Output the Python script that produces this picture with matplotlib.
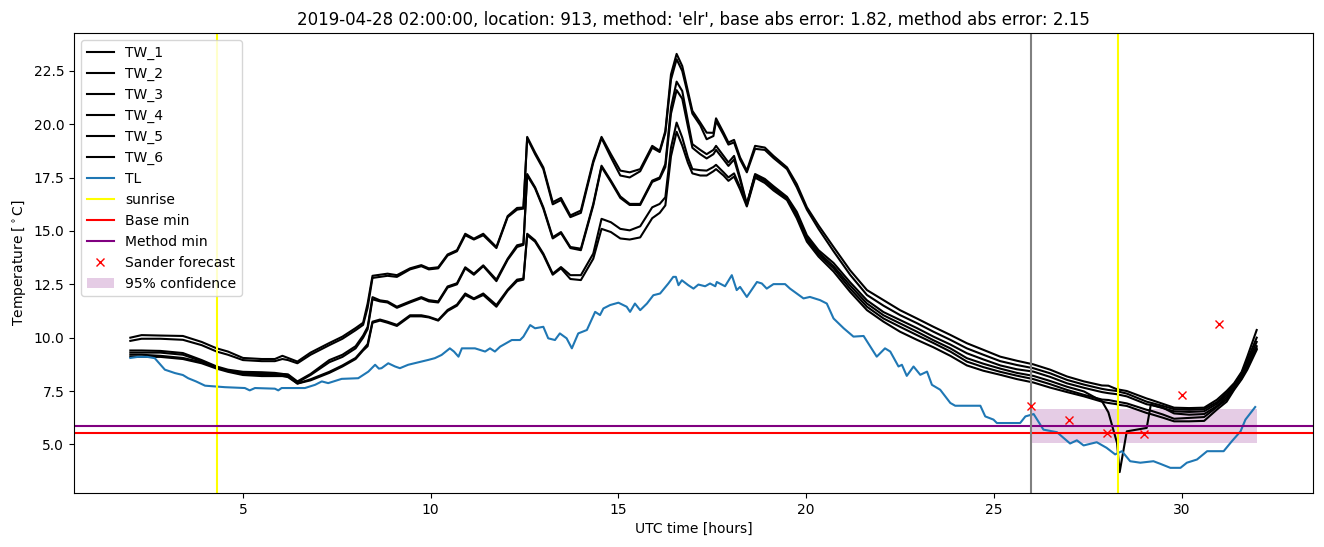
#!/usr/bin/env python3

"""
Plot TW profiles, TL, sunrise and the minimum temperature forecasts for one night.
"""

import numpy as np
import matplotlib
matplotlib.use("Agg")
import matplotlib.pyplot as plt

# shared time grid for the TW curves (UTC hours)
tw_hours = [2.0, 2.3, 2.8, 3.4, 3.9, 4.3, 4.6, 5.0, 5.5, 5.85, 6.05, 6.2, 6.45, 6.8, 7.3,
            7.65, 8.0, 8.2, 8.32, 8.45, 8.65, 8.85, 9.1, 9.45, 9.75, 9.95, 10.2, 10.45, 10.7,
            10.92, 11.15, 11.4, 11.75, 12.05, 12.3, 12.47, 12.57, 12.78, 13.0, 13.25, 13.47,
            13.72, 14.0, 14.33, 14.55, 14.8, 15.05, 15.3, 15.58, 15.9, 16.1, 16.25, 16.4,
            16.55, 16.7, 16.85, 16.97, 17.18, 17.35, 17.53, 17.6, 17.8, 17.93, 18.08, 18.24,
            18.42, 18.64, 18.9, 19.13, 19.49, 19.75, 20.02, 20.33, 20.73, 21.17, 21.62, 22.06,
            22.5, 22.95, 23.39, 23.84, 24.28, 24.72, 25.17, 25.61, 26.05, 26.5, 26.95, 27.4,
            27.88, 28.05, 28.28, 28.35, 28.54, 29.07, 29.18, 29.5, 29.8, 30.2, 30.6, 30.94,
            31.2, 31.4, 31.6, 31.75, 32.0]

tw_1 = [10.0, 10.12, 10.1, 10.08, 9.8, 9.5, 9.35, 9.05, 9.0, 9.0, 9.15, 9.05, 8.88, 9.3, 9.75,
        10.05, 10.45, 10.7, 11.6, 12.9, 12.95, 13.0, 12.93, 13.25, 13.4, 13.25, 13.3, 13.9, 14.1,
        14.87, 14.64, 14.87, 14.25, 15.7, 16.08, 16.1, 19.41, 18.68, 17.98, 16.35, 16.55,
        15.73, 15.96, 18.29, 19.41, 18.6, 17.83, 17.75, 17.9, 18.99, 18.76, 19.69, 22.34,
        23.3, 22.73, 21.56, 20.63, 20.08, 19.61, 19.6, 20.28, 19.61, 19.15, 19.27, 18.45,
        17.83, 18.99, 18.91, 18.52, 17.98, 17.2, 16.11, 15.26, 14.25, 13.16, 12.23, 11.76,
        11.29, 10.9, 10.51, 10.13, 9.74, 9.43, 9.11, 8.92, 8.75, 8.5, 8.18, 7.95,
        7.76, 7.75, 7.58, 7.56, 7.5, 7.15, 7.09, 6.9, 6.72, 6.7, 6.72, 7.09,
        7.5, 7.87, 8.4, 9.11, 10.36]
tw_2 = [9.85, 9.95, 9.95, 9.9, 9.65, 9.35, 9.2, 8.95, 8.9, 8.9, 9.0, 8.95, 8.8, 9.2, 9.65,
        9.95, 10.35, 10.6, 11.4, 12.8, 12.85, 12.9, 12.85, 13.2, 13.35, 13.2, 13.25, 13.85, 14.05,
        14.8, 14.6, 14.8, 14.2, 15.65, 16.0, 16.05, 19.35, 18.6, 17.9, 16.25, 16.45,
        15.65, 15.85, 18.2, 19.35, 18.45, 17.6, 17.51, 17.8, 18.9, 18.7, 19.6, 22.1,
        23.05, 22.5, 21.4, 20.5, 19.95, 19.3, 19.45, 20.15, 19.5, 19.05, 19.15, 18.35,
        17.75, 18.85, 18.8, 18.42, 17.9, 17.05, 16.0, 15.1, 14.05, 12.95, 12.0, 11.5,
        11.06, 10.68, 10.28, 9.9, 9.5, 9.2, 8.9, 8.72, 8.57, 8.33, 8.02, 7.8,
        7.6, 7.55, 7.5, 7.46, 7.38, 7.0, 6.95, 6.8, 6.65, 6.62, 6.65, 6.98,
        7.4, 7.8, 8.35, 8.95, 10.0]
tw_3 = [9.4, 9.4, 9.38, 9.28, 8.95, 8.65, 8.5, 8.4, 8.38, 8.35, 8.3, 8.28, 7.95, 8.3, 8.95,
        9.2, 9.6, 10.1, 10.5, 11.9, 11.75, 11.7, 11.45, 11.7, 11.9, 11.76, 11.7, 12.4, 12.55,
        13.3, 13.0, 13.39, 12.72, 13.7, 14.33, 14.4, 17.67, 17.05, 16.11, 14.71, 14.95,
        14.25, 14.17, 16.27, 18.06, 17.36, 16.62, 16.27, 16.27, 17.36, 17.51, 18.14, 20.78,
        22.0, 21.56, 20.16, 19.07, 18.8, 18.6, 18.8, 18.99, 18.52, 18.21, 18.52, 17.51,
        16.27, 17.67, 17.44, 17.1, 16.6, 15.9, 14.8, 14.1, 13.5, 12.6, 11.75, 11.2,
        10.83, 10.45, 10.05, 9.68, 9.27, 8.98, 8.7, 8.52, 8.41, 8.16, 7.86, 7.65,
        7.45, 7.4, 7.35, 7.32, 7.25, 6.88, 6.85, 6.7, 6.55, 6.52, 6.55, 6.9,
        7.3, 7.7, 8.25, 8.8, 9.8]
tw_4 = [9.3, 9.3, 9.3, 9.2, 8.9, 8.6, 8.45, 8.35, 8.3, 8.3, 8.3, 8.25, 7.9, 8.25, 8.85,
        9.1, 9.5, 10.0, 10.4, 11.8, 11.7, 11.65, 11.4, 11.65, 11.85, 11.7, 11.65, 12.35, 12.5,
        13.25, 12.95, 13.35, 12.65, 13.65, 14.25, 14.35, 17.6, 17.0, 16.05, 14.65, 14.9,
        14.2, 14.1, 16.2, 18.0, 17.3, 16.55, 16.22, 16.22, 17.3, 17.45, 18.0, 20.5,
        21.6, 21.2, 19.9, 18.9, 18.6, 18.4, 18.6, 18.8, 18.35, 18.05, 18.35, 17.4,
        16.2, 17.6, 17.35, 17.0, 16.55, 15.8, 14.7, 14.0, 13.35, 12.45, 11.6, 11.05,
        10.67, 10.28, 9.88, 9.5, 9.04, 8.78, 8.55, 8.35, 8.21, 7.97, 7.7, 7.48,
        7.02, 6.5, 5.07, 3.7, 5.61, 5.77, 6.86, 6.72, 6.45, 6.39, 6.42, 6.8,
        7.2, 7.65, 8.2, 8.7, 9.6]
tw_5 = [9.2, 9.2, 9.15, 9.05, 8.85, 8.6, 8.45, 8.3, 8.25, 8.25, 8.25, 8.2, 7.85, 8.05, 8.4,
        8.7, 9.05, 9.45, 9.7, 10.75, 10.85, 10.75, 10.6, 11.05, 11.05, 10.98, 10.83, 11.3, 11.55,
        12.07, 11.84, 12.07, 11.53, 12.25, 12.72, 12.77, 14.87, 14.56, 13.94, 13.0, 13.31,
        12.93, 12.93, 13.94, 15.57, 15.41, 15.1, 15.03, 15.22, 16.11, 16.27, 16.58, 18.91,
        20.08, 19.38, 18.45, 17.9, 17.85, 17.83, 18.0, 18.1, 17.75, 17.51, 17.7, 17.05,
        16.27, 17.59, 17.36, 17.0, 16.5, 15.75, 14.6, 13.9, 13.25, 12.3, 11.45, 10.9,
        10.51, 10.12, 9.75, 9.35, 8.88, 8.62, 8.4, 8.22, 8.06, 7.82, 7.55, 7.32,
        7.1, 7.08, 7.0, 6.98, 6.92, 6.62, 6.58, 6.4, 6.2, 6.24, 6.28, 6.75,
        7.1, 7.6, 8.1, 8.6, 9.5]
tw_6 = [9.1, 9.1, 9.1, 9.0, 8.8, 8.55, 8.4, 8.25, 8.2, 8.2, 8.2, 8.15, 7.85, 8.0, 8.35,
        8.65, 9.0, 9.4, 9.6, 10.7, 10.8, 10.7, 10.55, 11.0, 11.0, 10.95, 10.8, 11.25, 11.5,
        12.0, 11.8, 12.0, 11.45, 12.2, 12.65, 12.72, 14.8, 14.5, 13.88, 12.95, 13.25,
        12.75, 12.7, 13.7, 15.1, 14.95, 14.65, 14.6, 14.7, 15.6, 15.85, 16.2, 18.5,
        19.65, 19.0, 18.2, 17.7, 17.6, 17.6, 17.8, 17.9, 17.6, 17.35, 17.55, 16.95,
        16.15, 17.5, 17.25, 16.9, 16.45, 15.6, 14.5, 13.8, 13.1, 12.15, 11.29, 10.75,
        10.28, 9.9, 9.55, 9.15, 8.7, 8.45, 8.26, 8.06, 7.9, 7.66, 7.45, 7.25,
        7.0, 6.94, 6.88, 6.85, 6.8, 6.47, 6.42, 6.25, 6.08, 6.08, 6.1, 6.63,
        7.0, 7.56, 8.05, 8.5, 9.43]

tl_hours = [2.0, 2.2, 2.45, 2.65, 2.92, 3.19, 3.4, 3.54, 3.75, 3.99, 4.52, 5.05, 5.18, 5.32,
            5.85, 5.94, 6.03, 6.65, 6.92, 7.1, 7.27, 7.63, 8.07, 8.34, 8.52, 8.62, 8.69, 8.87,
            9.05, 9.18, 9.4, 9.76, 9.94, 10.11, 10.29, 10.51, 10.62, 10.74, 10.83, 11.18,
            11.45, 11.58, 11.71, 11.85, 12.16, 12.38, 12.47, 12.65, 12.78, 13.0, 13.13, 13.31,
            13.44, 13.62, 13.76, 13.93, 14.16, 14.38, 14.51, 14.6, 14.78, 15.0, 15.22, 15.31,
            15.44, 15.58, 15.76, 15.93, 16.11, 16.33, 16.46, 16.53, 16.6, 16.69, 16.86, 17.0,
            17.13, 17.31, 17.44, 17.58, 17.62, 17.84, 18.02, 18.15, 18.24, 18.42, 18.69, 18.82,
            18.95, 19.13, 19.44, 19.57, 19.75, 19.93, 20.1, 20.37, 20.55, 20.73, 21.0, 21.26,
            21.53, 21.88, 22.1, 22.24, 22.46, 22.55, 22.68, 22.86, 23.04, 23.22, 23.35, 23.57,
            23.84, 23.97, 24.64, 24.77, 24.99, 25.08, 25.7, 25.84, 26.06, 26.32, 26.68, 27.03,
            27.21, 27.39, 27.74, 28.0, 28.23, 28.41, 28.63, 28.9, 29.25, 29.43, 29.7, 29.97,
            30.14, 30.41, 30.68, 31.12, 31.34, 31.57, 31.7, 31.96]
tl = [9.05, 9.1, 9.1, 9.04, 8.5, 8.34, 8.25, 8.1, 7.95, 7.75, 7.68, 7.64, 7.53, 7.64,
      7.61, 7.53, 7.64, 7.64, 7.79, 7.95, 7.87, 8.07, 8.1, 8.41, 8.73, 8.55, 8.57, 8.8,
      8.65, 8.57, 8.73, 8.88, 8.96, 9.04, 9.19, 9.5, 9.35, 9.11, 9.5, 9.5,
      9.35, 9.5, 9.35, 9.58, 9.89, 9.89, 10.05, 10.59, 10.44, 10.51, 9.97, 9.89,
      10.2, 9.97, 9.5, 10.2, 10.36, 11.21, 11.06, 11.37, 11.53, 11.64, 11.45, 11.21,
      11.6, 11.29, 11.6, 11.99, 12.07, 12.54, 12.85, 12.85, 12.46, 12.69, 12.46, 12.3,
      12.49, 12.41, 12.54, 12.41, 12.61, 12.41, 12.93, 12.23, 12.38, 11.91, 12.61, 12.54,
      12.3, 12.51, 12.51, 12.3, 12.07, 11.84, 11.91, 11.76, 11.6, 10.9, 10.44, 10.05,
      10.08, 9.11, 9.5, 9.35, 8.65, 8.73, 8.21, 8.65, 8.26, 8.41, 7.79, 7.56,
      6.94, 6.81, 6.81, 6.31, 6.16, 6.0, 6.0, 6.31, 6.42, 5.69, 5.57, 5.04,
      5.19, 4.95, 5.1, 4.84, 4.53, 4.68, 4.21, 4.14, 4.21, 4.09, 3.9, 3.9,
      4.14, 4.29, 4.68, 4.68, 5.15, 5.61, 6.16, 6.75]

sunrise_hours = [4.3, 28.3]
base_min = 5.54
method_min = 5.85
forecast_time = 26.0

sander_hours = [26, 27, 28, 29, 30, 31]
sander_values = [6.8, 6.15, 5.55, 5.5, 7.3, 10.65]

conf_hours = [26.0, 32.0]
conf_low = 5.07
conf_high = 6.67

fig = plt.figure(figsize=(13.24, 5.47), dpi=100)
ax = fig.add_axes([0.0559, 0.0987, 0.9358, 0.841])

for i, tw in enumerate([tw_1, tw_2, tw_3, tw_4, tw_5, tw_6]):
    ax.plot(tw_hours, tw, color="black", label="TW_%d" % (i + 1))
ax.plot(tl_hours, tl, color="tab:blue", label="TL")

ax.axvline(sunrise_hours[0], color="yellow", label="sunrise")
ax.axvline(sunrise_hours[1], color="yellow")
ax.axhline(base_min, color="red", label="Base min")
ax.axhline(method_min, color="purple", label="Method min")
ax.axvline(forecast_time, color="grey")
ax.plot(sander_hours, sander_values, "x", color="red", label="Sander forecast")
ax.fill_between(conf_hours, conf_low, conf_high, color="purple", alpha=0.2,
                linewidth=0, label="95% confidence")

ax.set_xlabel("UTC time [hours]")
ax.set_ylabel("Temperature [$^\\circ$C]")
ax.set_title("2019-04-28 02:00:00, location: 913, method: 'elr', "
             "base abs error: 1.82, method abs error: 2.15")
ax.legend(loc="upper left")

fig.savefig("out.png")
plt.close()
